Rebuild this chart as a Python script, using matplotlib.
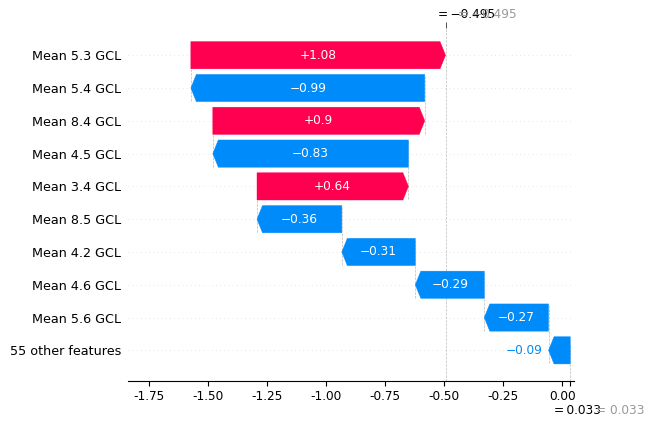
import matplotlib
matplotlib.use("Agg")
import matplotlib.pyplot as plt
from matplotlib.patches import Polygon
import numpy as np

# shap waterfall values, bottom row first
features = ["55 other features", "Mean 5.6 GCL", "Mean 4.6 GCL", "Mean 4.2 GCL",
            "Mean 8.5 GCL", "Mean 3.4 GCL", "Mean 4.5 GCL", "Mean 8.4 GCL",
            "Mean 5.4 GCL", "Mean 5.3 GCL"]
shap_vals = [-0.092, -0.272, -0.292, -0.311, -0.359, 0.641, -0.828, 0.897, -0.99, 1.078]
base_value = 0.033
fx = -0.495
xticks = [-1.75, -1.50, -1.25, -1.00, -0.75, -0.50, -0.25, 0.00]

RED = "#ff0051"
BLUE = "#008bfb"
px_per_unit = 236.8
bar_h = 0.83


def fmt(v):
    s = "%+0.2f" % v
    s = s.rstrip("0").rstrip(".") if "." in s else s
    return s.replace("-", "\u2212")


fig = plt.figure(figsize=(6.49, 4.23), dpi=100)
ax = fig.add_axes([128 / 649, (423 - 380.5) / 423, (574.3 - 128) / 649, (380.5 - 28) / 423])
ax.set_xlim(-1.839, 0.050)
ax.set_ylim(-0.92, 9.83)

n = len(features)
ends = base_value + np.cumsum(shap_vals)
starts = ends - np.array(shap_vals)
hl = 5.5 / px_per_unit

for i in range(n):
    ax.axhline(i, color="#cccccc", lw=0.5, dashes=(1, 5), zorder=-1)

for i in range(n):
    s, e, v = starts[i], ends[i], shap_vals[i]
    d = np.sign(v)
    h = min(hl, abs(v))
    body = e - d * h
    y0, y1 = i - bar_h / 2, i + bar_h / 2
    pts = [(s, y0), (body, y0), (e, i), (body, y1), (s, y1)]
    col = RED if v > 0 else BLUE
    ax.add_patch(Polygon(pts, closed=True, facecolor=col, edgecolor=col, lw=0.3, zorder=2))
    width_px = abs(v) * px_per_unit
    if width_px > 45:
        ax.text((s + e) / 2, i, fmt(v), ha="center", va="center", color="white", fontsize=8.7)
    else:
        ax.annotate(fmt(v), xy=(e, i), xytext=(6 * d, 0), textcoords="offset pixels",
                    ha="right" if v < 0 else "left", va="center", color=col, fontsize=8.7)
    if i < n - 1:
        ax.plot([e, e], [i - 0.4, i + 1 + 0.4], color="#bbbbbb", ls="--", lw=0.5, zorder=-1)

ax.axvline(base_value, 0, 1 / n, color="#bbbbbb", ls="--", lw=0.5, zorder=-1)
ax.axvline(fx, 0, 1, color="#bbbbbb", ls="--", lw=0.5, zorder=-1)

ax.set_yticks(range(n))
ax.set_yticklabels(features, fontsize=9.2)
ax.tick_params(axis="y", length=0, pad=5)
ax.set_xticks(xticks)
ax.set_xticklabels(["%.2f" % t for t in xticks])
ax.tick_params(axis="x", labelsize=8.7)
for sp in ["left", "top", "right"]:
    ax.spines[sp].set_visible(False)

# extra ticks for base value and f(x)
ax2 = ax.twiny()
ax2.set_xlim(ax.get_xlim())
ax2.set_xticks([fx])
ax2.set_xticklabels([""])
ax2.tick_params(axis="x", length=4, width=0.6, color="#333333")
for sp in ax2.spines.values():
    sp.set_visible(False)

ax3 = ax.twiny()
ax3.xaxis.set_ticks_position("bottom")
ax3.set_xlim(ax.get_xlim())
ax3.set_xticks([base_value])
ax3.set_xticklabels([""])
for sp in ax3.spines.values():
    sp.set_visible(False)

lab_fx = "= " + ("%.3f" % fx).replace("-", "\u2212")
lab_base = "= " + "%.3f" % base_value
ax.annotate(lab_fx.replace(" ", "\u2009"), xy=(fx, 1), xycoords=("data", "axes fraction"),
            xytext=(21, 14), textcoords="offset pixels", ha="center", va="center",
            fontsize=8.7, color="black")
ax.annotate(lab_fx, xy=(fx, 1), xycoords=("data", "axes fraction"),
            xytext=(42, 14), textcoords="offset pixels", ha="center", va="center",
            fontsize=8.7, color="#999999")
ax.annotate(lab_base.replace(" ", "\u2009"), xy=(base_value, 0), xycoords=("data", "axes fraction"),
            xytext=(7, -29.5), textcoords="offset pixels", ha="center", va="center",
            fontsize=8.7, color="black")
ax.annotate(lab_base, xy=(base_value, 0), xycoords=("data", "axes fraction"),
            xytext=(50, -29.5), textcoords="offset pixels", ha="center", va="center",
            fontsize=8.7, color="#999999")

fig.savefig("out.png", dpi=100)
